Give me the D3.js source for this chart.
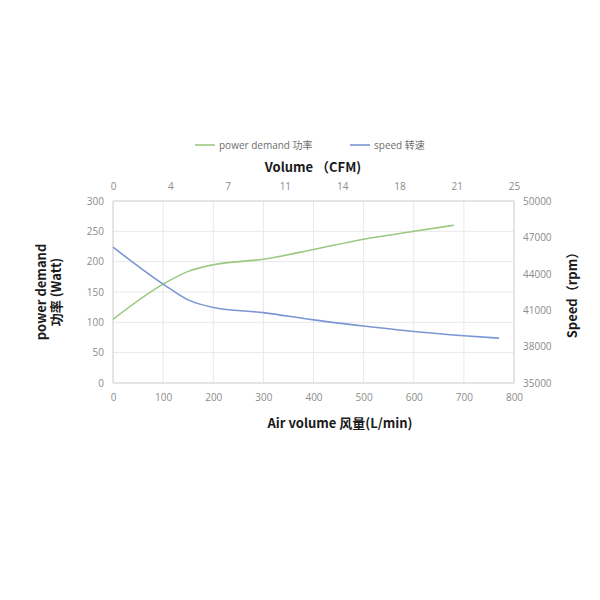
<!DOCTYPE html>
<html><head><meta charset="utf-8">
<script src="https://cdn.jsdelivr.net/npm/d3@7"></script>
<style>body{margin:0;background:#fff}</style>
</head><body>
<svg id="c" width="600" height="600"></svg>
<script>
const powerX = [0, 100, 150, 200, 300, 400, 500, 600, 680];
const powerW = [105, 163, 184, 195, 204, 220, 237, 250, 260];
const speedX = [0, 100, 150, 200, 300, 400, 500, 600, 700, 770];
const speedRpm = [46200, 43150, 41850, 41230, 40800, 40200, 39700, 39250, 38900, 38700];
const bottomTicks = [0, 100, 200, 300, 400, 500, 600, 700, 800];
const leftTicks = [0, 50, 100, 150, 200, 250, 300];
const rightTicks = [35000, 38000, 41000, 44000, 47000, 50000];
const topTicks = [0, 4, 7, 11, 14, 18, 21, 25];
const seriesNames = ["power demand 功率", "speed 转速"];
const colors = ["#9cc87f", "#7a97d4"];

const svg = d3.select("#c");
const L = 113, R = 514, T = 201, B = 383;
const x = d3.scaleLinear().domain([0, 800]).range([L, R]);
const yL = d3.scaleLinear().domain([0, 300]).range([B, T]);
const yR = d3.scaleLinear().domain([35000, 50000]).range([B, T]);
const xTop = d3.scalePoint().domain(topTicks.map(String)).range([L, R]);
const font = "'Open Sans','Noto Sans CJK SC',sans-serif";
const grey = "#8c8c8c";

// gridlines
svg.append("g").selectAll("line").data(leftTicks).join("line")
  .attr("x1", L).attr("x2", R).attr("y1", d => yL(d)).attr("y2", d => yL(d))
  .attr("stroke", "#e8e8e8").attr("stroke-width", 1);
svg.append("g").selectAll("line").data(bottomTicks).join("line")
  .attr("y1", T).attr("y2", B).attr("x1", d => x(d)).attr("x2", d => x(d))
  .attr("stroke", "#e8e8e8").attr("stroke-width", 1);
svg.append("rect").attr("x", L).attr("y", T).attr("width", R - L).attr("height", B - T)
  .attr("fill", "none").attr("stroke", "#d6d6d6");

function styleAxis(g) {
  g.select(".domain").remove();
  g.selectAll(".tick line").remove();
  g.selectAll("text").attr("fill", grey).attr("font-size", 10).attr("font-family", font);
}
svg.append("g").attr("transform", `translate(0,${B + 8})`)
  .call(d3.axisBottom(x).tickValues(bottomTicks).tickSize(0)).call(styleAxis);
svg.append("g").attr("transform", `translate(${L - 6},0)`)
  .call(d3.axisLeft(yL).tickValues(leftTicks).tickSize(0)).call(styleAxis);
svg.append("g").attr("transform", `translate(${R + 6},0)`)
  .call(d3.axisRight(yR).tickValues(rightTicks).tickFormat(d3.format("d")).tickSize(0)).call(styleAxis);
svg.append("g").attr("transform", `translate(0,${T - 8})`)
  .call(d3.axisTop(xTop).tickSize(0)).call(styleAxis);

// lines
const lineP = d3.line().x((d, i) => x(powerX[i])).y(d => yL(d)).curve(d3.curveMonotoneX);
const lineS = d3.line().x((d, i) => x(speedX[i])).y(d => yR(d)).curve(d3.curveMonotoneX);
svg.append("path").datum(powerW).attr("d", lineP).attr("fill", "none")
  .attr("stroke", colors[0]).attr("stroke-width", 1.6);
svg.append("path").datum(speedRpm).attr("d", lineS).attr("fill", "none")
  .attr("stroke", colors[1]).attr("stroke-width", 1.6);

// legend
const lg = [{x: 195, t: seriesNames[0], c: colors[0]}, {x: 350, t: seriesNames[1], c: colors[1]}];
lg.forEach(d => {
  svg.append("line").attr("x1", d.x).attr("x2", d.x + 20).attr("y1", 145).attr("y2", 145)
    .attr("stroke", d.c).attr("stroke-width", 1.6);
  svg.append("text").attr("x", d.x + 24).attr("y", 148.5).text(d.t)
    .attr("font-size", 10).attr("fill", "#6e6e6e").attr("font-family", font);
});

// titles
const tf = "'Noto Sans CJK SC','Open Sans',sans-serif";
svg.append("text").attr("x", 313).attr("y", 172).attr("text-anchor", "middle")
  .attr("font-weight", "bold").attr("font-size", 13).attr("font-family", tf).attr("fill", "#1a1a1a")
  .text("Volume （CFM)");
svg.append("text").attr("x", 340).attr("y", 428).attr("text-anchor", "middle")
  .attr("font-weight", "bold").attr("font-size", 13).attr("font-family", tf).attr("fill", "#1a1a1a")
  .text("Air volume 风量(L/min)");
const lt = svg.append("text").attr("transform", "translate(46,292) rotate(-90)")
  .attr("text-anchor", "middle").attr("font-weight", "bold").attr("font-size", 13)
  .attr("font-family", tf).attr("fill", "#1a1a1a");
lt.append("tspan").attr("x", 0).attr("dy", 0).text("power demand");
lt.append("tspan").attr("x", 0).attr("dy", 15).text("功率 (Watt)");
svg.append("text").attr("transform", "translate(577,292) rotate(-90)")
  .attr("text-anchor", "middle").attr("font-weight", "bold").attr("font-size", 13)
  .attr("font-family", tf).attr("fill", "#1a1a1a").text("Speed（rpm）");
</script>
</body></html>
